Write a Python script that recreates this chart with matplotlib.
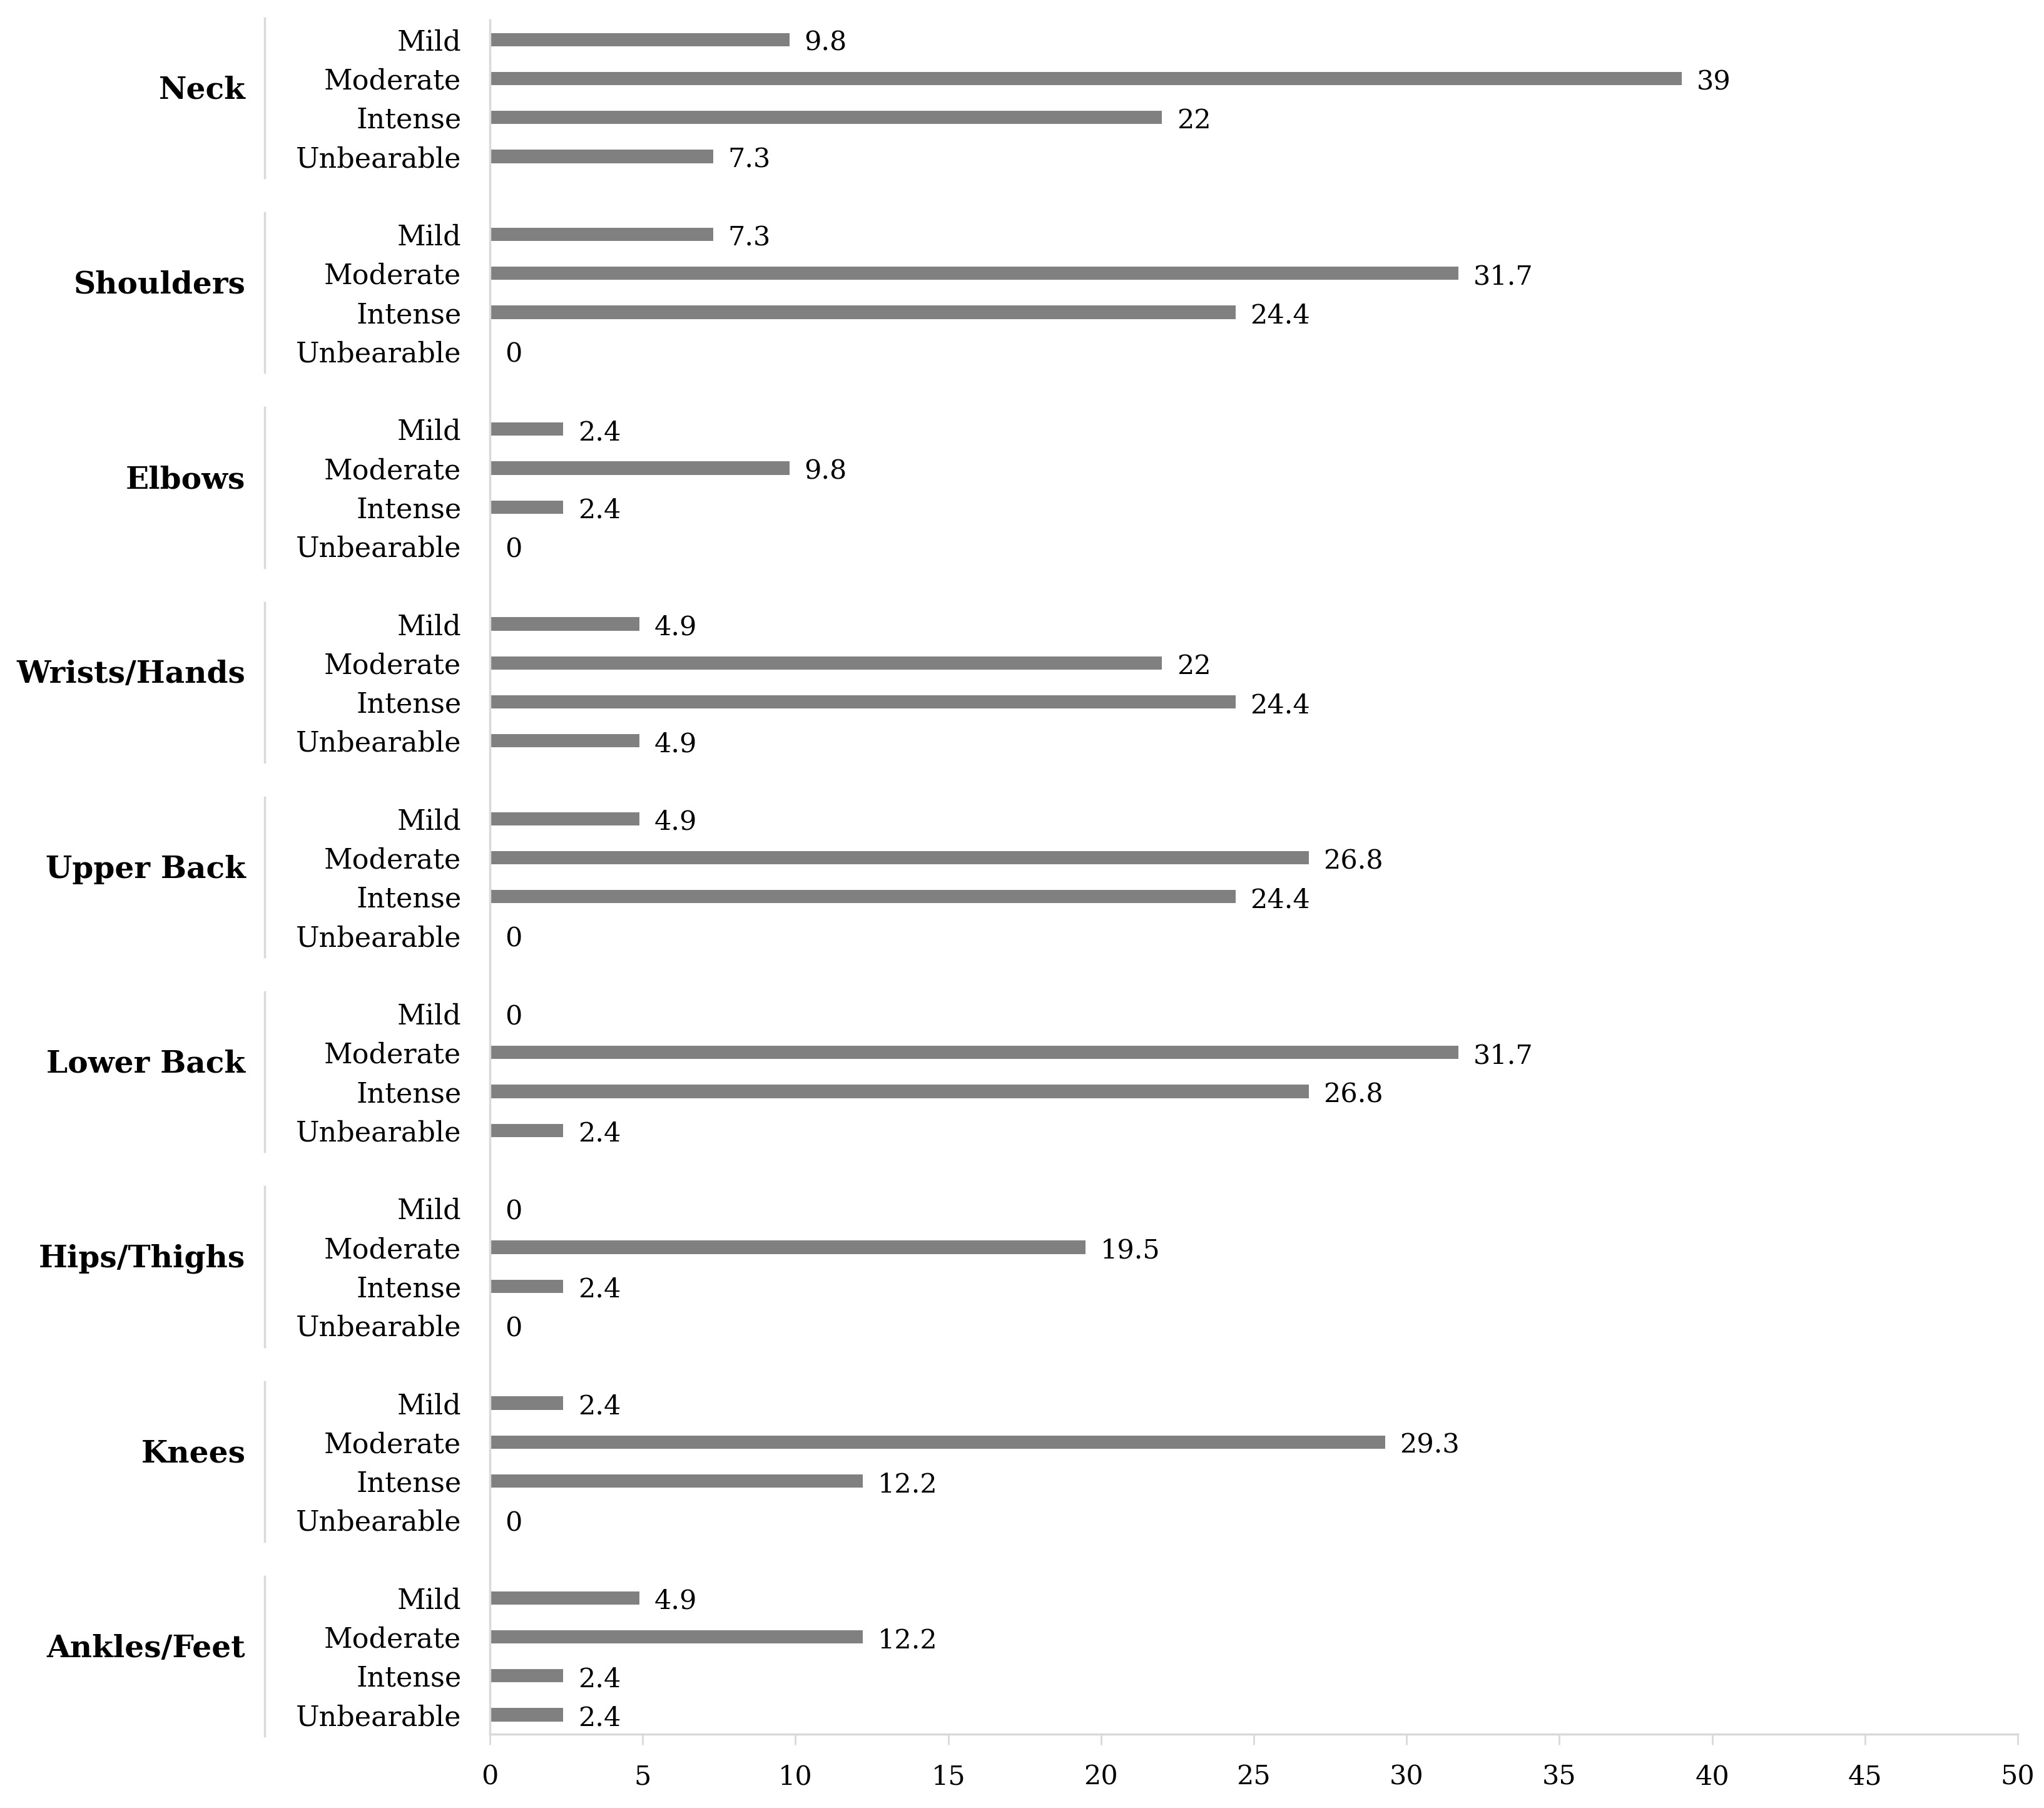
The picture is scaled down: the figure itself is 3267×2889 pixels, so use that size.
import matplotlib
matplotlib.use("Agg")
import matplotlib.pyplot as plt
import matplotlib.transforms as mtransforms

groups = ["Neck", "Shoulders", "Elbows", "Wrists/Hands", "Upper Back",
          "Lower Back", "Hips/Thighs", "Knees", "Ankles/Feet"]
levels = ["Mild", "Moderate", "Intense", "Unbearable"]
neck = [9.8, 39, 22, 7.3]
shoulders = [7.3, 31.7, 24.4, 0]
elbows = [2.4, 9.8, 2.4, 0]
wrists_hands = [4.9, 22, 24.4, 4.9]
upper_back = [4.9, 26.8, 24.4, 0]
lower_back = [0, 31.7, 26.8, 2.4]
hips_thighs = [0, 19.5, 2.4, 0]
knees = [2.4, 29.3, 12.2, 0]
ankles_feet = [4.9, 12.2, 2.4, 2.4]
values = [neck, shoulders, elbows, wrists_hands, upper_back,
          lower_back, hips_thighs, knees, ankles_feet]
xticks = [0, 5, 10, 15, 20, 25, 30, 35, 40, 45, 50]

FONT = "DejaVu Serif"
BAR = "#808080"
AXC = "#d9d9d9"

fig = plt.figure(figsize=(32.67, 28.89), dpi=100)
ax = fig.add_axes([0.2397, 0.0408, 0.9871 - 0.2397, 0.9889 - 0.0408])

ypos, labels, vals = [], [], []
for gi, (g, gv) in enumerate(zip(groups, values)):
    for li, (lvl, v) in enumerate(zip(levels, gv)):
        ypos.append(gi * 5 + li)
        labels.append(lvl)
        vals.append(v)

ax.barh(ypos, vals, height=0.34, color=BAR)
for y, v in zip(ypos, vals):
    ax.annotate(f"{v:g}", (v, y), xytext=(17, -4), textcoords="offset points",
                ha="left", va="center", fontsize=31, family=FONT, color="black")

ax.set_ylim(ypos[-1] + 0.5, -0.5)
ax.set_xlim(0, 50)
ax.set_xticks(xticks)
ax.set_xticklabels([str(t) for t in xticks], fontsize=31, family=FONT)
ax.set_yticks(ypos)
ax.set_yticklabels(labels, fontsize=32, family=FONT)
ax.tick_params(axis="y", length=0, pad=33)
ax.tick_params(axis="x", length=12, width=2, color=AXC, pad=22, direction="out")

for s in ["top", "right"]:
    ax.spines[s].set_visible(False)
for s in ["left", "bottom"]:
    ax.spines[s].set_color(AXC)
    ax.spines[s].set_linewidth(2.5)

trans = mtransforms.blended_transform_factory(ax.transAxes, ax.transData)
for gi, g in enumerate(groups):
    y0 = gi * 5
    ax.plot([-0.1474, -0.1474], [y0 - 0.55, y0 + 3.55], transform=trans,
            color=AXC, lw=2.5, clip_on=False)
    ax.text(-0.160, y0 + 1.3, g, transform=trans, ha="right", va="center",
            fontsize=35, fontweight="bold", family=FONT)

fig.savefig("out.png", dpi=100)
